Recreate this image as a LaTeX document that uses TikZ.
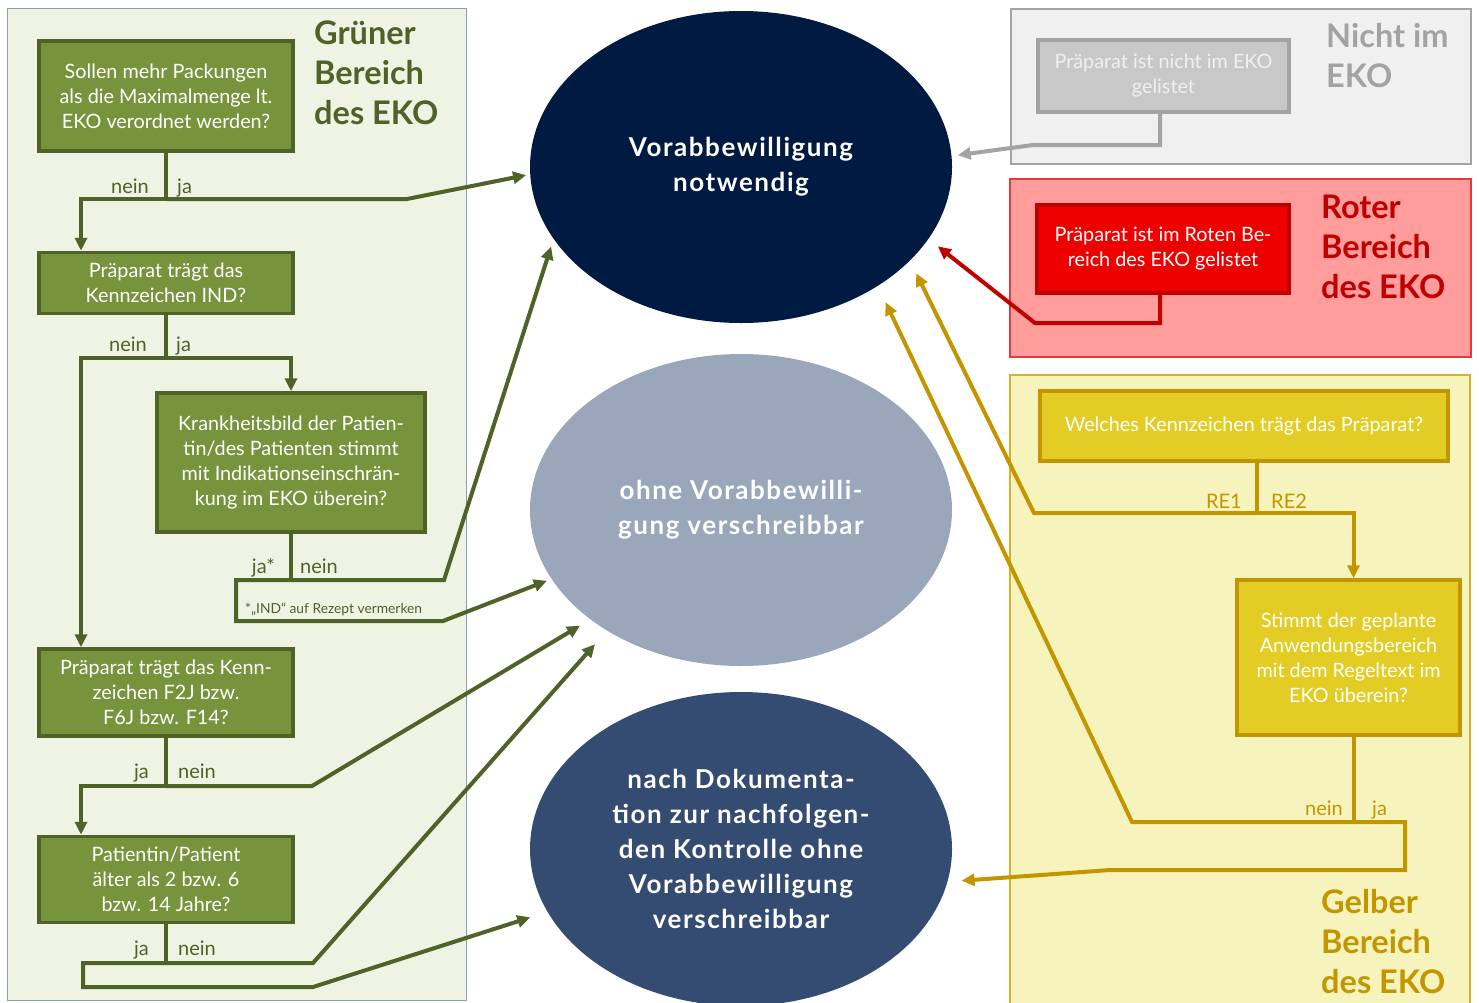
\documentclass[tikz,border=0pt]{standalone}
\usepackage{fontspec}
\setmainfont{Lato}
\usetikzlibrary{arrows.meta,shapes.geometric,positioning}

\definecolor{grfill}{HTML}{77933C}
\definecolor{grdark}{HTML}{4F6228}
\definecolor{grpanel}{HTML}{EEF3E4}
\definecolor{grpanelb}{HTML}{8A9DB5}
\definecolor{gyfill}{HTML}{C8C8C8}
\definecolor{gydark}{HTML}{A3A3A3}
\definecolor{gypanel}{HTML}{F0F0F0}
\definecolor{rdfill}{HTML}{EE0000}
\definecolor{rddark}{HTML}{C00000}
\definecolor{rdpanel}{HTML}{FF9C9C}
\definecolor{rdpanelb}{HTML}{E5383B}
\definecolor{ylfill}{HTML}{E3CD24}
\definecolor{yldark}{HTML}{C39600}
\definecolor{ylpanel}{HTML}{F6F3BC}
\definecolor{ylpanelb}{HTML}{D8B12C}
\definecolor{ovnavy}{HTML}{001A41}
\definecolor{ovgrey}{HTML}{9AA7BA}
\definecolor{ovblue}{HTML}{344B72}

\begin{document}
\begin{tikzpicture}[x=1pt,y=-1pt,>={Triangle[length=13pt,width=12pt]},
        box/.style={rectangle,line width=3.5pt,text=white,align=center,inner sep=0pt,
          font=\fontsize{19.8}{25}\selectfont},
        gbox/.style={box,draw=grdark,fill=grfill},
        gwide/.style={gbox,minimum width=254pt},
        oval/.style={ellipse,minimum width=422pt,minimum height=312pt,inner sep=0pt,
          text=white,align=center,font=\fontsize{26}{35}\selectfont\bfseries\addfontfeatures{LetterSpace=6}},
        title/.style={anchor=west,align=left,inner sep=0pt,font=\fontsize{32.5}{40}\selectfont\bfseries},
        lbl/.style={inner sep=0pt,font=\fontsize{20}{22}\selectfont},
        gline/.style={draw=grdark,line width=4pt},
        gyline/.style={draw=gydark,line width=4pt},
        rdline/.style={draw=rddark,line width=4pt},
        ylline/.style={draw=yldark,line width=4pt}]
  \useasboundingbox (0,0) rectangle (1479,1002);
  \fill[white] (0,0) rectangle (1479,1002);

  % panels
  \filldraw[fill=grpanel,draw=grpanelb,line width=1pt] (7,8) rectangle (466,1000);
  \filldraw[fill=gypanel,draw=gydark,line width=1.2pt] (1011,9) rectangle (1471,164);
  \filldraw[fill=rdpanel,draw=rdpanelb,line width=1.2pt] (1010,179) rectangle (1471,357);
  \filldraw[fill=ylpanel,draw=ylpanelb,line width=1.2pt] (1010,375) rectangle (1470,1006);

  \node[title,text=grdark] (tgr) at (314,73) {Grüner\\Bereich\\des EKO};
  \node[title,text=gydark] (tgy) at (1326,56) {Nicht im\\EKO};
  \node[title,text=rddark] (trd) at (1321,247) {Roter\\Bereich\\des EKO};
  \node[title,text=yldark] (tyl) at (1321,942) {Gelber\\Bereich\\des EKO};

  % outcomes
  \node[oval,fill=ovnavy] (v1) at (741,167) {Vorabbewilligung\\notwendig};
  \node[oval,fill=ovgrey] (v2) at (741,510) {ohne Vorabbewilli-\\gung verschreibbar};
  \node[oval,fill=ovblue,minimum height=314pt] (v3) at (741,849)
    {nach Dokumenta-\\tion zur nachfolgen-\\den Kontrolle ohne\\Vorabbewilligung\\verschreibbar};

  % green area
  \node[gwide,minimum height=110pt] (g1) at (166,96)
    {Sollen mehr Packungen\\als die Maximalmenge lt.\\EKO verordnet werden?};
  \node[gwide,minimum height=61pt] (g2) [below=98pt of g1]
    {Präparat trägt das\\Kennzeichen IND?};
  \node[gbox,minimum width=268pt,minimum height=139pt] (g3) at (291,462.5)
    {Krankheitsbild der Patien-\\tin/des Patienten stimmt\\mit Indikationseinschrän-\\kung im EKO überein?};
  \node[gwide,minimum height=87pt] (g4) at (166,692.5)
    {Präparat trägt das Kenn-\\zeichen F2J bzw.\\F6J bzw. F14?};
  \node[gwide,minimum height=86pt] (g5) [below=97pt of g4]
    {Patientin/Patient\\älter als 2 bzw. 6\\bzw. 14 Jahre?};

  % grey and red
  \node[box,draw=gydark,fill=gyfill,text=gypanel,minimum width=251pt,minimum height=72pt] (n1)
    at (1163.5,76) {Präparat ist nicht im EKO\\gelistet};
  \node[box,draw=rddark,fill=rdfill,minimum width=252pt,minimum height=88pt] (r1)
    at (1163,249) {Präparat ist im Roten Be-\\reich des EKO gelistet};

  % yellow area
  \node[box,draw=yldark,fill=ylfill,minimum width=408pt,minimum height=70pt] (y1)
    at (1244,426) {Welches Kennzeichen trägt das Präparat?};
  \node[box,draw=yldark,fill=ylfill,minimum width=223pt,minimum height=155pt] (y2)
    at (1348.5,657.5) {Stimmt der geplante\\Anwendungsbereich\\mit dem Regeltext im\\EKO überein?};

  % branch points
  \coordinate (j1) at (166,199);
  \coordinate (k1) at (407,199);
  \coordinate (j2) at (166,358);
  \coordinate (j3) at (291,580);
  \coordinate (k3) at (444,580);
  \coordinate (m3) at (236,621);
  \coordinate (n3) at (443,621);
  \coordinate (j4) at (166,786);
  \coordinate (k4) at (312,786);
  \coordinate (j5) at (166,963);
  \coordinate (k5) at (313,963);
  \coordinate (m5) at (83,987);
  \coordinate (n5) at (313,987);
  \coordinate (p1) at (1033,145);
  \coordinate (p2) at (1035,323);
  \coordinate (j6) at (1257,513);
  \coordinate (k6) at (1034,513);
  \coordinate (j7) at (1354,822);
  \coordinate (k7) at (1132,822);
  \coordinate (m7) at (1405,870);
  \coordinate (n7) at (1110,870);

  % green connectors
  \draw[gline] (g1.south) -- (j1);
  \draw[gline,->] (j1) -| ([xshift=-85pt]g2.north);
  \draw[gline,->,shorten >=4pt] (j1) -- (k1) -- (v1.182);
  \draw[gline] (g2.south) -- (j2);
  \draw[gline,->] (j2) -| (g3.north);
  \draw[gline,->] (j2) -| ([xshift=-85pt]g4.north);
  \draw[gline] (g3.south) -- (j3);
  \draw[gline,->,shorten >=8pt] (j3) -- (k3) -- (v1.201);
  \draw[gline,->,shorten >=5pt] (j3) -| (m3) -- (n3) -- (v2.200);
  \draw[gline] (g4.south) -- (j4);
  \draw[gline,->] (j4) -| ([xshift=-85pt]g5.north);
  \draw[gline,->,shorten >=12pt] (j4) -- (k4) -- (v2.216);
  \draw[gline] (g5.south) -- (j5);
  \draw[gline,->,shorten >=18pt] (j5) -- (k5) -- (v2.222);
  \draw[gline,->,shorten >=18pt] (j5) -| (m5) -- (n5) -- (v3.198);

  \node[lbl,text=grdark,anchor=base east] (l1a) at ([xshift=-17pt,yshift=6pt]j1) {nein};
  \node[lbl,text=grdark,anchor=base west] (l1b) at ([xshift=11pt,yshift=6pt]j1) {ja};
  \node[lbl,text=grdark,anchor=base east] (l2a) at ([xshift=-19pt,yshift=7pt]j2) {nein};
  \node[lbl,text=grdark,anchor=base west] (l2b) at ([xshift=10pt,yshift=7pt]j2) {ja};
  \node[lbl,text=grdark,anchor=base east] (l3a) at ([xshift=-16pt,yshift=7pt]j3) {ja*};
  \node[lbl,text=grdark,anchor=base west] (l3b) at ([xshift=9pt,yshift=7pt]j3) {nein};
  \node[lbl,text=grdark,anchor=base east] (l4a) at ([xshift=-17pt,yshift=8pt]j4) {ja};
  \node[lbl,text=grdark,anchor=base west] (l4b) at ([xshift=12pt,yshift=8pt]j4) {nein};
  \node[lbl,text=grdark,anchor=base east] (l5a) at ([xshift=-17pt,yshift=8pt]j5) {ja};
  \node[lbl,text=grdark,anchor=base west] (l5b) at ([xshift=12pt,yshift=8pt]j5) {nein};
  \node[inner sep=0pt,text=grdark,font=\fontsize{13.8}{15}\selectfont,anchor=base west] (note)
    at (245,613) {*„IND“ auf Rezept vermerken};

  % grey and red connectors
  \draw[gyline,->,shorten >=6pt] ([xshift=-3.5pt]n1.south) |- (p1) -- (v1.3);
  \draw[rdline,->,shorten >=12pt] ([xshift=-3pt]r1.south) |- (p2) -- (v1.339);

  % yellow connectors
  \draw[ylline] ([xshift=13pt]y1.south) -- (j6);
  \draw[ylline,->] (j6) -| ([xshift=5pt]y2.north);
  \draw[ylline,->,shorten >=14pt] (j6) -- (k6) -- (v1.331);
  \draw[ylline] ([xshift=5.5pt]y2.south) -- (j7);
  \draw[ylline,->,shorten >=18pt] (j7) -- (k7) -- (v1.319);
  \draw[ylline,->,shorten >=14pt] (j7) -| (m7) -- (n7) -- (v3.351);

  \node[lbl,text=yldark,anchor=base east] (l6a) at ([xshift=-15pt,yshift=5pt]j6) {RE1};
  \node[lbl,text=yldark,anchor=base west] (l6b) at ([xshift=14pt,yshift=5pt]j6) {RE2};
  \node[lbl,text=yldark,anchor=base east] (l7a) at ([xshift=-11pt,yshift=7pt]j7) {nein};
  \node[lbl,text=yldark,anchor=base west] (l7b) at ([xshift=18pt,yshift=7pt]j7) {ja};
\end{tikzpicture}
\end{document}
